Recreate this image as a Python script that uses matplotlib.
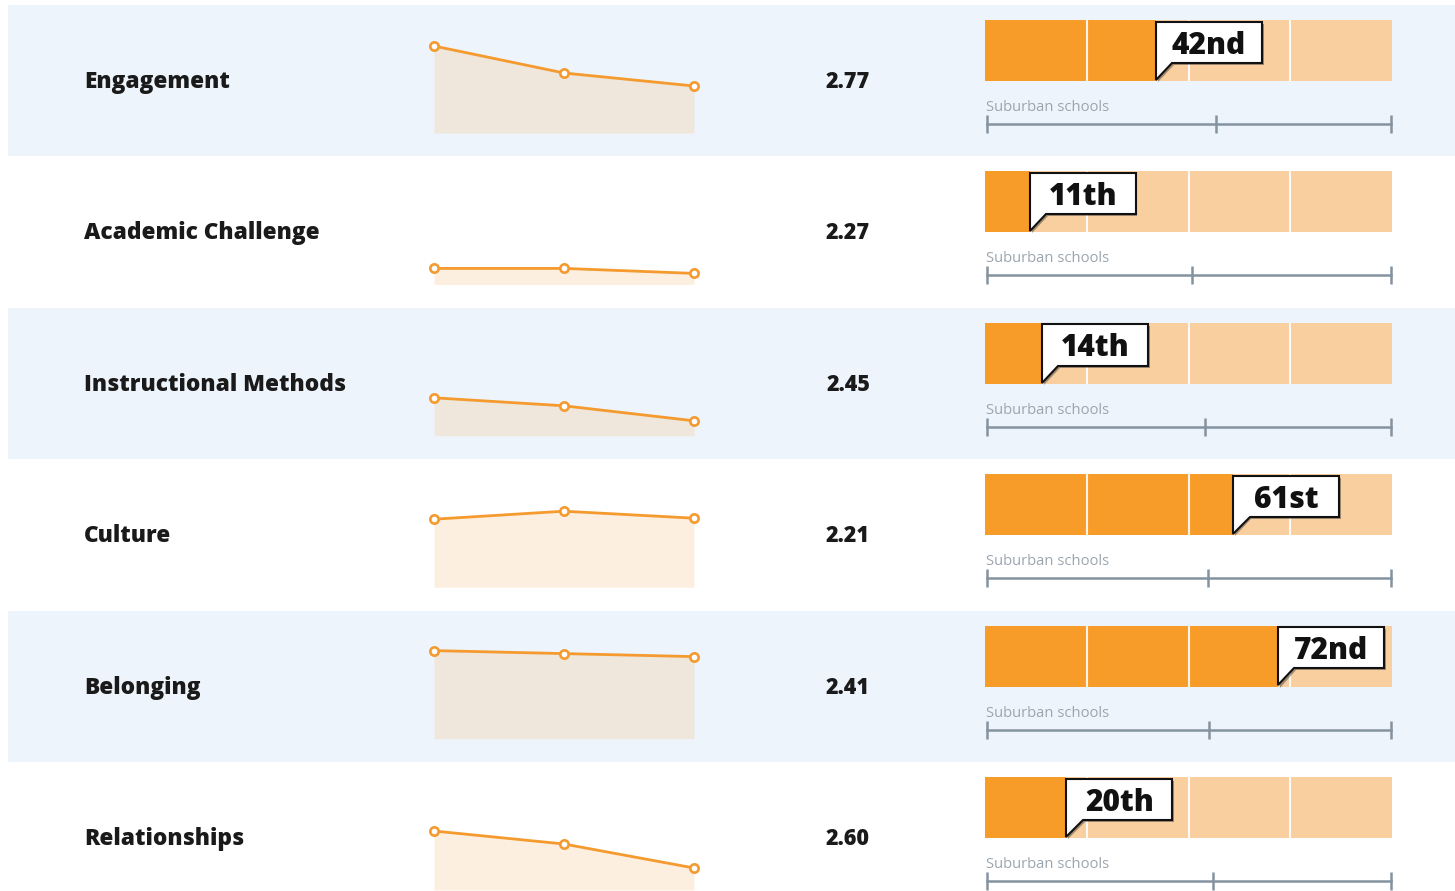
import matplotlib
matplotlib.use("Agg")
import matplotlib.pyplot as plt
from matplotlib.patches import Rectangle, Polygon

# ---------------- data ----------------
categories = ["Engagement", "Academic Challenge", "Instructional Methods",
              "Culture", "Belonging", "Relationships"]
scores = [2.77, 2.27, 2.45, 2.21, 2.41, 2.60]
percentiles = [42, 11, 14, 61, 72, 20]
rank_labels = ["42nd", "11th", "14th", "61st", "72nd", "20th"]
suburban_median = [56.7, 50.7, 54.0, 54.7, 55.0, 56.0]
trend_points = [0, 1, 2]
trend_engagement = [87, 60, 47]
trend_academic = [16, 16, 11]
trend_instructional = [38, 30, 15]
trend_culture = [68, 76, 69]
trend_belonging = [88, 85, 82]
trend_relationships = [59, 46, 22]
trend_values = [trend_engagement, trend_academic, trend_instructional,
                trend_culture, trend_belonging, trend_relationships]
quartiles = [25, 50, 75]
group_label = "Suburban schools"

# ---------------- style ----------------
W, H = 1455, 891
ROW_H = 151.4
TOP0 = 5
BAND = "#EEF4FB"
ORANGE = "#F79C28"
LIGHT = "#F9CFA0"
LINE = "#F59A2E"
AXIS = "#8493A0"
FONT = "Open Sans"

fig = plt.figure(figsize=(W / 100, H / 100), dpi=100)
fig.patch.set_facecolor("white")


def add_ax(x0, y0, x1, y1):
    ax = fig.add_axes([x0 / W, 1 - y1 / H, (x1 - x0) / W, (y1 - y0) / H])
    ax.axis("off")
    return ax


def ftext(px, py, s, **kw):
    fig.text(px / W, 1 - py / H, s, family=FONT, **kw)


for i, cat in enumerate(categories):
    top = TOP0 + i * ROW_H
    if i % 2 == 0:
        fig.add_artist(Rectangle((8 / W, 1 - (top + ROW_H) / H), (W - 8) / W,
                                 ROW_H / H, transform=fig.transFigure,
                                 facecolor=BAND, edgecolor="none", zorder=0))

    # category label
    ftext(84, top + 83, cat, fontsize=16.3, fontweight=800, color="#1A1A1A",
          va="baseline", ha="left")

    # sparkline
    ax = add_ax(434, top + 28, 694, top + 128)
    ax.set_xlim(0, 2)
    ax.set_ylim(0, 100)
    ax.fill_between(trend_points, trend_values[i], 0, color=LINE, alpha=0.15,
                    linewidth=0)
    ax.plot(trend_points, trend_values[i], color=LINE, lw=2.0, marker="o",
            ms=6, mfc="white", mec=LINE, mew=1.9, clip_on=False,
            solid_capstyle="round")

    # score
    ftext(848, top + 83, f"{scores[i]:.2f}", fontsize=15.5, fontweight=800,
          color="#1A1A1A", va="baseline", ha="center")

    # percentile bar
    bx = add_ax(985, top + 15, 1392, top + 76)
    bx.set_xlim(0, 100)
    bx.set_ylim(0, 1)
    bx.barh(0.5, 100, height=1, color=LIGHT, linewidth=0)
    bx.barh(0.5, percentiles[i], height=1, color=ORANGE, linewidth=0)
    for q in quartiles:
        bx.axvline(q, color="white", lw=1.5, alpha=0.9)

    p = percentiles[i]
    bw = 26.0
    btop, bbot, tip, tw = 0.975, 0.30, 0.02, 4.0
    verts = [(p, tip), (p, btop), (p + bw, btop), (p + bw, bbot),
             (p + tw, bbot)]
    sx, sy = 0.45, 0.035
    bx.add_patch(Polygon([(x + sx, y - sy) for x, y in verts], closed=True,
                         facecolor="#333333", edgecolor="none", alpha=0.45,
                         clip_on=False, zorder=4))
    bx.add_patch(Polygon(verts, closed=True, facecolor="white",
                         edgecolor="#111111", lw=1.5, clip_on=False,
                         joinstyle="miter", zorder=5))
    bx.text(p + bw / 2, 0.45, rank_labels[i], family=FONT, fontsize=21.5,
            fontweight=800, color="#111111", ha="center", va="baseline",
            zorder=6)

    # suburban schools axis
    ftext(986, top + 106, group_label, fontsize=10.6, color="#9BA5AE",
          va="baseline", ha="left")
    axx = add_ax(987, top + 110, 1391, top + 128)
    axx.set_xlim(0, 100)
    axx.set_ylim(-1, 1)
    axx.plot([0, 100], [0, 0], color=AXIS, lw=1.8, clip_on=False)
    axx.vlines([0, suburban_median[i], 100], -1, 1, color=AXIS, lw=1.8,
               clip_on=False)

fig.savefig("out.png", dpi=100, facecolor="white")
